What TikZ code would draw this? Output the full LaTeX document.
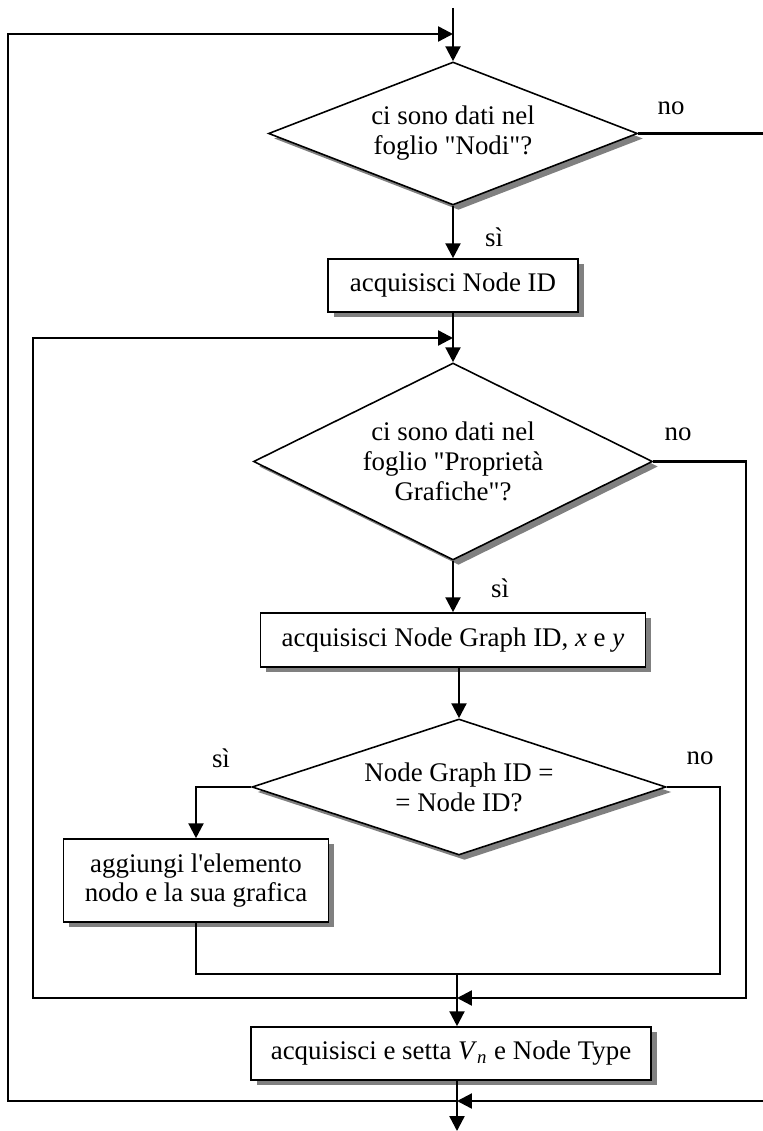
\documentclass[tikz,border=0pt]{standalone}
\usepackage{fontspec}
\setmainfont{Liberation Serif}[Ligatures=TeXOff]
\usetikzlibrary{shapes.geometric,arrows.meta,shadows}
\begin{document}
\begin{tikzpicture}[x=0.02cm,y=-0.02cm,
  every node/.style={font=\fontsize{15.3}{17}\selectfont},
  shad/.style={drop shadow={shadow xshift=0.11cm,shadow yshift=-0.1cm,fill=black!50,opacity=1}},
  dec/.style={shape=diamond,draw,fill=white,line width=0.9pt,inner sep=0pt,align=center,shad},
  proc/.style={shape=rectangle,draw,fill=white,line width=0.9pt,inner sep=0pt,align=center,shad},
  lbl/.style={inner sep=0pt},
  arr/.style={line width=1.35pt,-{Triangle[length=8.5pt,width=8.5pt]}},
  thinln/.style={line width=0.9pt}]
\useasboundingbox (0,0) rectangle (763,1131);

% nodes
\node[dec,aspect=2.6,minimum width=369*0.02cm,minimum height=143*0.02cm] (d1) at (453,133.5) {ci sono dati nel\\foglio "Nodi"?};
\node[proc,minimum width=250*0.02cm,minimum height=53*0.02cm] (b1) at (453,285.5) {acquisisci Node ID};
\node[dec,aspect=2,minimum width=399*0.02cm,minimum height=197*0.02cm] (d2) at (453,461.5) {ci sono dati nel\\foglio "Proprietà\\Grafiche"?};
\node[proc,minimum width=385*0.02cm,minimum height=54*0.02cm] (b2) at (453,640) {acquisisci Node Graph ID, \textit{x} e \textit{y}};
\node[dec,aspect=3,minimum width=414*0.02cm,minimum height=136*0.02cm] (d3) at (459,787) {Node Graph ID =\\= Node ID?};
\node[proc,minimum width=265*0.02cm,minimum height=83*0.02cm] (b3) at (196,880.5) {aggiungi l'elemento\\nodo e la sua grafica};
\node[proc,minimum width=400*0.02cm,minimum height=53*0.02cm] (b4) at (451,1053.5) {acquisisci e setta \textit{V}\textsubscript{\textit{n}} e Node Type};

% labels
\node[lbl] (no1) at (671,108) {no};
\node[lbl] (si1) at (494,237) {sì};
\node[lbl] (no2) at (678,434) {no};
\node[lbl] (si2) at (500,588) {sì};
\node[lbl] (si3) at (221,758) {sì};
\node[lbl] (no3) at (700,758) {no};

% coordinates
\coordinate (top) at (453,8);
\coordinate (m1) at (453,34);
\coordinate (ol) at (8,34);
\coordinate (s1) at (457,1101);
\coordinate (r1) at (775,1101);
\coordinate (m2) at (453,338);
\coordinate (il) at (33,338);
\coordinate (s2) at (457,998);
\coordinate (r2) at (746,998);
\coordinate (j1) at (457,974);
\coordinate (ir) at (720,974);
\coordinate (fin) at (457,1131);

% main flow
\draw[arr] (top) -- (d1.north);
\draw[arr] (d1.south) -- (b1.north);
\draw[arr] (b1.south) -- (d2.north);
\draw[arr] (d2.south) -- (b2.north);
\draw[arr] (b2.south -| d3.north) -- (d3.north);
\draw[arr] (d3.west) -| (b3.north);
\draw[thinln] (b3.south) |- (ir) |- (d3.east);
\draw[arr] (j1) -- (j1 |- b4.north);
\draw[arr] (b4.south -| fin) -- (fin);

% loops
\draw[arr] (s1) -| (ol) -- (m1);
\draw[arr] (d1.east) -| (r1) -- (s1);
\draw[arr] (s2) -| (il) -- (m2);
\draw[arr] (d2.east) -| (r2) -- (s2);
\end{tikzpicture}
\end{document}
